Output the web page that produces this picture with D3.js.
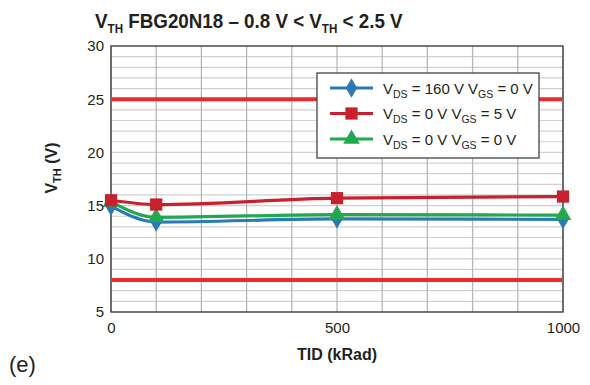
<!DOCTYPE html>
<html><head><meta charset="utf-8">
<script src="https://cdn.jsdelivr.net/npm/d3@7"></script>
<style>
body{margin:0;background:#fff;}
text{font-family:"Liberation Sans",Arial,sans-serif;fill:#231f20;}
</style></head>
<body><svg id="c" width="590" height="385"></svg>
<script>
const tid = [0, 100, 500, 1000];
const vds160 = [14.95, 13.45, 13.75, 13.7];
const vgs5 = [15.5, 15.1, 15.7, 15.85];
const vgs0 = [15.35, 13.9, 14.15, 14.1];
const limits = [8, 25];
const xTicks = [0, 500, 1000];
const yTicks = [5, 10, 15, 20, 25, 30];
const seriesNames = ["160 V", "0 V", "0 V"];
const gsNames = ["0 V", "5 V", "0 V"];

const svg = d3.select("#c");
const L = 111, R = 563, T = 46, B = 312;
const x = d3.scaleLinear().domain([0, 1000]).range([L, R]);
const y = d3.scaleLinear().domain([5, 30]).range([B, T]);

const g = svg.append("g");
// grid
g.selectAll(".hg").data(d3.range(5, 31, 1)).join("line")
  .attr("x1", L).attr("x2", R).attr("y1", d => y(d)).attr("y2", d => y(d))
  .attr("stroke", "#d0d0d0").attr("stroke-width", 1.2);
g.selectAll(".vg").data(d3.range(0, 1001, 100)).join("line")
  .attr("y1", T).attr("y2", B).attr("x1", d => x(d)).attr("x2", d => x(d))
  .attr("stroke", "#b8b8b8").attr("stroke-width", 1.3);
// frame
g.append("rect").attr("x", L).attr("y", T).attr("width", R - L).attr("height", B - T)
  .attr("fill", "none").attr("stroke", "#3a3a3a").attr("stroke-width", 1.3);

// axes
const ya = d3.axisLeft(y).tickValues(yTicks).tickSize(0).tickPadding(7);
const yg = svg.append("g").attr("transform", `translate(${L},0)`).call(ya);
yg.select(".domain").remove();
yg.selectAll("text").attr("font-size", 15).style("fill", "#231f20");
const xa = d3.axisBottom(x).tickValues(xTicks).tickFormat(d3.format("d")).tickSize(0).tickPadding(10);
const xg = svg.append("g").attr("transform", `translate(0,${B})`).call(xa);
xg.select(".domain").remove();
xg.selectAll("text").attr("font-size", 15).style("fill", "#231f20");

// limit lines
g.selectAll(".lim").data(limits).join("line")
  .attr("x1", L + 1).attr("x2", R - 1).attr("y1", d => y(d)).attr("y2", d => y(d))
  .attr("stroke", "#ee2a2e").attr("stroke-width", 4);

const series = [
  {v: vds160, c: "#2a7ab8", sym: d3.symbolDiamond, size: 110},
  {v: vgs5, c: "#c8202c", sym: d3.symbolSquare, size: 150},
  {v: vgs0, c: "#22a84f", sym: d3.symbolTriangle, size: 120}
];
const line = d3.line().x((d, i) => x(tid[i])).y(d => y(d)).curve(d3.curveMonotoneX);
const drawOrder = [0, 2, 1];
drawOrder.forEach(k => {
  const s = series[k];
  g.append("path").datum(s.v).attr("d", line).attr("fill", "none")
    .attr("stroke", s.c).attr("stroke-width", 3.2);
});
drawOrder.forEach(k => {
  const s = series[k];
  g.selectAll(null).data(s.v).join("path")
    .attr("transform", (d, i) => `translate(${x(tid[i])},${y(d)})`)
    .attr("d", d3.symbol().type(s.sym).size(s.size))
    .attr("fill", s.c);
});

// legend
const lg = svg.append("g");
lg.append("rect").attr("x", 317).attr("y", 73).attr("width", 222).attr("height", 85)
  .attr("fill", "#fff").attr("stroke", "#444").attr("stroke-width", 1.3);
series.forEach((s, i) => {
  const yy = 88 + i * 25.5;
  lg.append("line").attr("x1", 330).attr("x2", 373).attr("y1", yy).attr("y2", yy)
    .attr("stroke", s.c).attr("stroke-width", 3.2);
  lg.append("path").attr("transform", `translate(351.5,${yy})`)
    .attr("d", d3.symbol().type(s.sym).size(s.size)).attr("fill", s.c);
  const t = lg.append("text").attr("x", 383).attr("y", yy + 5.5).attr("font-size", 15);
  t.append("tspan").text("V");
  t.append("tspan").text("DS").attr("font-size", 10.5).attr("dy", 4);
  t.append("tspan").text(" = " + seriesNames[i] + " V").attr("dy", -4);
  t.append("tspan").text("GS").attr("font-size", 10.5).attr("dy", 4);
  t.append("tspan").text(" = " + gsNames[i]).attr("dy", -4);
});

// title (condensed via horizontal scale)
const tt = svg.append("text").attr("transform", "translate(95,28) scale(0.895,1)")
  .attr("font-size", 21).attr("font-weight", "bold");
tt.append("tspan").text("V");
tt.append("tspan").text("TH").attr("font-size", 13).attr("dy", 5);
tt.append("tspan").text(" FBG20N18 \u2013 0.8 V < V").attr("dy", -5);
tt.append("tspan").text("TH").attr("font-size", 13).attr("dy", 5);
tt.append("tspan").text(" < 2.5 V").attr("dy", -5);

// y label
const yl = svg.append("text").attr("transform", "translate(57,168) rotate(-90)")
  .attr("text-anchor", "middle").attr("font-size", 16).attr("font-weight", "bold");
yl.append("tspan").text("V");
yl.append("tspan").text("TH").attr("font-size", 11).attr("dy", 4);
yl.append("tspan").text(" (V)").attr("dy", -4);

svg.append("text").attr("x", 337).attr("y", 360).attr("text-anchor", "middle")
  .attr("font-size", 16).attr("font-weight", "bold").text("TID (kRad)");
svg.append("text").attr("x", 9).attr("y", 372).attr("font-size", 22).text("(e)");
</script></body></html>
